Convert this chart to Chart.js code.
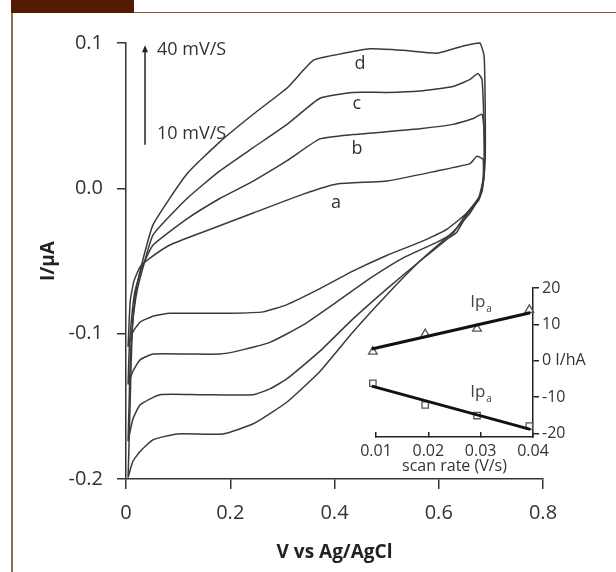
<!DOCTYPE html>
<html><head><meta charset="utf-8">
<script src="https://cdn.jsdelivr.net/npm/chart.js@4.4.1/dist/chart.umd.min.js"></script>
<style>
html,body{margin:0;padding:0;background:#fff;width:616px;height:572px;overflow:hidden;}
#frameLeft{position:absolute;left:11px;top:0;width:2px;height:572px;background:#9a6858;}
#frameTop{position:absolute;left:11px;top:12px;width:605px;height:1px;background:#8a5444;}
#tab{position:absolute;left:11px;top:0;width:123px;height:13px;background:#521a02;}
#main{position:absolute;left:0;top:0;}
#inset{position:absolute;left:340px;top:270px;}
</style></head><body>
<div id="frameLeft"></div><div id="frameTop"></div><div id="tab"></div>
<canvas id="main" width="616" height="572"></canvas>
<canvas id="inset" width="276" height="215"></canvas>
<script>
// ---- main cyclic voltammograms (V vs Ag/AgCl, I in µA) ----
const loopLabels = ['a', 'b', 'c', 'd'];
const aV = [0.004,0.008,0.015,0.027,0.046,0.084,0.148,0.244,0.340,0.405,0.501,0.597,0.660,0.673,0.685,0.685,0.677,0.654,0.616,0.564,0.501,0.435,0.372,0.309,0.263,0.200,0.142,0.084,0.052,0.027,0.013,0.004];
const aI = [-0.109,-0.078,-0.064,-0.054,-0.048,-0.039,-0.030,-0.017,-0.004,0.003,0.005,0.012,0.017,0.022,0.020,0.006,-0.006,-0.017,-0.028,-0.037,-0.046,-0.057,-0.069,-0.080,-0.085,-0.086,-0.086,-0.086,-0.088,-0.092,-0.099,-0.109];
const bV = [0.004,0.006,0.010,0.017,0.031,0.052,0.117,0.180,0.244,0.309,0.372,0.435,0.501,0.564,0.627,0.666,0.683,0.687,0.687,0.679,0.654,0.627,0.597,0.531,0.468,0.405,0.340,0.276,0.213,0.180,0.117,0.052,0.027,0.013,0.004];
const bI = [-0.135,-0.112,-0.092,-0.071,-0.054,-0.039,-0.021,-0.007,0.005,0.019,0.034,0.037,0.039,0.041,0.044,0.048,0.051,0.039,0.012,-0.006,-0.017,-0.031,-0.037,-0.048,-0.062,-0.078,-0.094,-0.106,-0.112,-0.114,-0.114,-0.114,-0.118,-0.126,-0.135];
const cV = [0.004,0.006,0.008,0.013,0.021,0.033,0.052,0.117,0.180,0.244,0.309,0.372,0.435,0.501,0.564,0.627,0.660,0.675,0.683,0.687,0.687,0.677,0.656,0.635,0.616,0.564,0.501,0.435,0.372,0.309,0.276,0.244,0.142,0.065,0.027,0.013,0.004];
const cI = [-0.174,-0.147,-0.119,-0.092,-0.071,-0.054,-0.032,-0.007,0.012,0.028,0.044,0.062,0.066,0.066,0.067,0.070,0.075,0.079,0.075,0.039,0.008,-0.008,-0.017,-0.030,-0.035,-0.050,-0.069,-0.090,-0.112,-0.131,-0.138,-0.142,-0.142,-0.142,-0.149,-0.159,-0.174];
const dV = [0.004,0.006,0.008,0.010,0.013,0.019,0.029,0.052,0.117,0.180,0.244,0.309,0.359,0.405,0.468,0.531,0.597,0.647,0.660,0.679,0.687,0.689,0.689,0.683,0.660,0.627,0.564,0.501,0.435,0.372,0.309,0.244,0.186,0.098,0.052,0.027,0.013,0.004];
const dI = [-0.199,-0.174,-0.147,-0.119,-0.092,-0.071,-0.054,-0.025,0.010,0.032,0.051,0.069,0.088,0.092,0.096,0.095,0.093,0.098,0.099,0.100,0.091,0.060,0.019,-0.002,-0.017,-0.030,-0.050,-0.073,-0.099,-0.126,-0.147,-0.162,-0.169,-0.169,-0.173,-0.181,-0.188,-0.199];

// ---- inset: peak current vs scan rate ----
const scanRates = [0.0094, 0.0194, 0.0293, 0.0393];
const ipaValues = [2.5, 7.3, 8.8, 14.0];
const ipcValues = [-6.2, -12.2, -15.1, -18.0];
const fitRates  = [0.0092, 0.0395];
const ipaFit    = [3.2, 13.2];
const ipcFit    = [-7.0, -18.9];

const scanLabels = ['40 mV/S', '10 mV/S'];
const insetLabel = 'Ip';

Chart.defaults.font.family = '"Open Sans", "DejaVu Sans", sans-serif';
Chart.defaults.color = '#333';

function pts(xs, ys) { return xs.map((v, k) => ({x: v, y: ys[k]})); }

const loops = [[aV, aI], [bV, bI], [cV, cI], [dV, dI]];

const mainAnnot = {
  id: 'mainAnnot',
  afterDatasetsDraw(chart) {
    const {ctx, scales: {x, y}} = chart;
    ctx.save();
    ctx.fillStyle = '#333';
    ctx.font = '18px "Open Sans"';
    ctx.textAlign = 'center';
    ctx.textBaseline = 'middle';
    const lp = [[0.403, -0.010], [0.443, 0.027], [0.443, 0.058], [0.449, 0.0855]];
    loopLabels.forEach((t, i) => ctx.fillText(t, x.getPixelForValue(lp[i][0]), y.getPixelForValue(lp[i][1])));
    // arrow of increasing scan rate
    const ax = x.getPixelForValue(0.0365);
    const y0 = y.getPixelForValue(0.030), y1 = y.getPixelForValue(0.0985);
    ctx.strokeStyle = '#222'; ctx.lineWidth = 1.5;
    ctx.beginPath(); ctx.moveTo(ax, y0); ctx.lineTo(ax, y1 + 5); ctx.stroke();
    ctx.beginPath(); ctx.moveTo(ax, y1); ctx.lineTo(ax - 3, y1 + 7); ctx.lineTo(ax + 3, y1 + 7); ctx.closePath();
    ctx.fillStyle = '#222'; ctx.fill();
    ctx.fillStyle = '#333';
    ctx.textAlign = 'left';
    ctx.fillText(scanLabels[0], x.getPixelForValue(0.0595), y.getPixelForValue(0.0955));
    ctx.fillText(scanLabels[1], x.getPixelForValue(0.0595), y.getPixelForValue(0.0375));
    ctx.restore();
  }
};

new Chart(document.getElementById('main'), {
  type: 'line',
  data: {
    datasets: loops.map((l, i) => ({
      label: loopLabels[i],
      data: pts(l[0], l[1]),
      borderColor: '#3a3a3a',
      borderWidth: 1.5,
      pointRadius: 0,
      tension: 0.15,
      fill: false,
      clip: 8
    }))
  },
  options: {
    responsive: false, animation: false, devicePixelRatio: 1,
    layout: {padding: {left: 0, top: 43, right: 73, bottom: 0}},
    plugins: {legend: {display: false}, tooltip: {enabled: false}},
    scales: {
      x: {
        type: 'linear', min: 0, max: 0.8,
        ticks: {stepSize: 0.2, padding: 12, font: {size: 20}, color: '#333',
          callback: v => (Math.abs(v) < 1e-9 ? '0' : v.toFixed(1))},
        grid: {drawOnChartArea: false, drawTicks: true, tickLength: 10, color: '#333', lineWidth: 1.5},
        border: {color: '#333', width: 1.5},
        title: {display: true, text: 'V vs Ag/AgCl', font: {size: 19, weight: 'bold'}, color: '#222', padding: {top: 0, bottom: 8}},
        afterFit: s => { s.height = 93; }
      },
      y: {
        type: 'linear', min: -0.2, max: 0.1,
        ticks: {stepSize: 0.1, padding: 14, font: {size: 20}, color: '#333',
          callback: v => (Math.abs(v) < 1e-9 ? '0.0' : v.toFixed(1))},
        grid: {drawOnChartArea: false, drawTicks: true, tickLength: 9, color: '#333', lineWidth: 1.5},
        border: {color: '#333', width: 1.5},
        title: {display: true, text: 'I/μA', font: {size: 19, weight: 'bold'}, color: '#222', padding: {top: 37, bottom: 0}},
        afterFit: s => { s.width = 126; }
      }
    }
  },
  plugins: [mainAnnot]
});

const insetAnnot = {
  id: 'insetAnnot',
  afterDatasetsDraw(chart) {
    const {ctx, scales: {x, y}} = chart;
    ctx.save();
    ctx.fillStyle = '#444';
    ctx.textBaseline = 'middle';
    ctx.textAlign = 'left';
    [[0.028, 16.0], [0.028, -8.6]].forEach(p => {
      const px = x.getPixelForValue(p[0]), py = y.getPixelForValue(p[1]);
      ctx.font = '17px "Open Sans"';
      ctx.fillText(insetLabel, px, py);
      const w = ctx.measureText(insetLabel).width;
      ctx.font = '10px "Open Sans"';
      ctx.fillText('a', px + w + 1, py + 7);
    });
    ctx.restore();
  }
};

new Chart(document.getElementById('inset'), {
  type: 'line',
  data: {
    datasets: [
      {data: pts(fitRates, ipaFit), borderColor: '#111', borderWidth: 3, pointRadius: 0, tension: 0, clip: false},
      {data: pts(fitRates, ipcFit), borderColor: '#111', borderWidth: 3, pointRadius: 0, tension: 0, clip: false},
      {data: pts(scanRates, ipaValues), showLine: false, pointStyle: 'triangle', pointRadius: 5,
        borderColor: '#555', backgroundColor: 'rgba(255,255,255,0)', pointBorderWidth: 1.3, clip: false},
      {data: pts(scanRates, ipcValues), showLine: false, pointStyle: 'rect', pointRadius: 4.5,
        borderColor: '#555', backgroundColor: 'rgba(255,255,255,0)', pointBorderWidth: 1.3, clip: false}
    ]
  },
  options: {
    responsive: false, animation: false, devicePixelRatio: 1,
    layout: {padding: {left: 36, top: 18, right: 0, bottom: 0}},
    plugins: {legend: {display: false}, tooltip: {enabled: false}},
    scales: {
      x: {
        type: 'linear', position: 'bottom', min: 0.01, max: 0.04,
        ticks: {stepSize: 0.01, padding: 10, font: {size: 16}, color: '#333', callback: v => v.toFixed(2)},
        grid: {drawOnChartArea: false, drawTicks: true, tickLength: -5, color: '#222', lineWidth: 1.5},
        border: {color: '#222', width: 1.5},
        title: {display: true, text: 'scan rate (V/s)', font: {size: 16}, color: '#333', padding: {top: 0, bottom: 9}},
        afterFit: s => { s.height = 48; }
      },
      y: {
        type: 'linear', position: 'right', min: -21, max: 20,
        ticks: {stepSize: 10, includeBounds: false, padding: 3, font: {size: 16}, color: '#333',
          callback: v => (v === 0 ? '0 I/hA' : String(v))},
        grid: {drawOnChartArea: false, drawTicks: true, tickLength: 6, color: '#222', lineWidth: 1.5},
        border: {color: '#222', width: 1.5},
        afterFit: s => { s.width = 83; }
      }
    }
  },
  plugins: [insetAnnot]
});
</script>
</body></html>
